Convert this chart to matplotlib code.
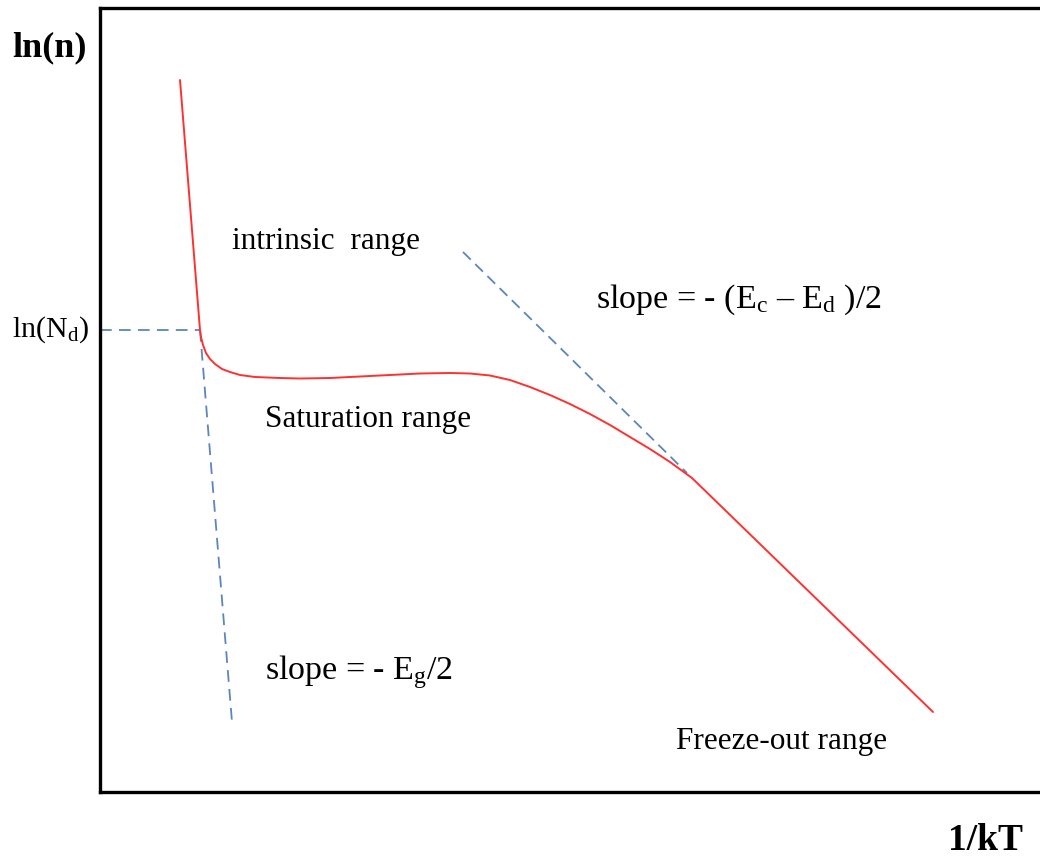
import matplotlib
matplotlib.use("Agg")
import matplotlib.pyplot as plt

plt.rcParams["font.family"] = ["Liberation Serif", "DejaVu Serif"]
plt.rcParams["mathtext.fontset"] = "custom"
plt.rcParams["mathtext.rm"] = "Liberation Serif"
plt.rcParams["mathtext.it"] = "Liberation Serif:italic"

# Carrier concentration ln(n) versus 1/kT (arbitrary units)
inv_kT = [0.80, 1.00, 1.01, 1.03, 1.06, 1.10, 1.15, 1.22, 1.30, 1.40, 1.55,
          1.80, 2.00, 2.30, 2.60, 2.90, 3.20, 3.50, 3.70, 3.90, 4.10, 4.30,
          4.50, 4.70, 4.90, 5.10, 5.30, 5.50, 5.70, 5.92, 8.33]
ln_n = [7.12, 4.62, 4.55, 4.47, 4.39, 4.33, 4.28, 4.23, 4.20, 4.17, 4.15,
        4.14, 4.135, 4.14, 4.155, 4.17, 4.185, 4.19, 4.185, 4.165, 4.12, 4.05,
        3.97, 3.88, 3.78, 3.67, 3.55, 3.43, 3.30, 3.14, 0.80]

# Guide lines: ln(Nd) level, intrinsic slope and freeze-out tangent
ln_Nd = 4.62
nd_x = [0.0, 1.00]
intrinsic_x = [1.00, 1.32]
intrinsic_y = [4.62, 0.70]
tangent_x = [3.63, 5.87]
tangent_y = [5.40, 3.19]

W, H = 1040, 859
fig = plt.figure(figsize=(W / 100, H / 100), dpi=100)
ax = fig.add_axes([100 / W, (H - 792) / H, 940 / W, 784 / H])
ax.set_xlim(0, 9.40)
ax.set_ylim(0, 7.84)

blue = "#5b86bd"
ax.plot(nd_x, [ln_Nd, ln_Nd], color=blue, lw=1.3, dashes=(6.5, 4))
ax.plot(intrinsic_x, intrinsic_y, color=blue, lw=1.3, dashes=(6.5, 4))
ax.plot(tangent_x, tangent_y, color=blue, lw=1.3, dashes=(6, 3.5))
ax.plot(inv_kT, ln_n, color="#ff3030", lw=1.4, solid_capstyle="round",
        solid_joinstyle="round")

for side in ("left", "top", "bottom"):
    ax.spines[side].set_linewidth(2.4)
    ax.spines[side].set_color("black")
ax.spines["right"].set_visible(False)
ax.set_xticks([])
ax.set_yticks([])

# Axis titles and range labels
fig.text(12 / W, 1 - 48 / H, "ln(n)", fontsize=26, fontweight="bold",
         ha="left", va="center")
fig.text(948 / W, 1 - 850 / H, "1/kT", fontsize=27, fontweight="bold",
         ha="left", va="baseline")
fig.text(12 / W, 1 - 330 / H, r"ln(N$_\mathrm{d}$)", fontsize=21.5,
         ha="left", va="center")

top = 7.92
ax.text(1.32, top - 2.42, "intrinsic  range", fontsize=22.5,
        ha="left", va="center")
ax.text(1.65, top - 4.19, "Saturation range", fontsize=22.5,
        ha="left", va="center")
ax.text(4.96, top - 3.00,
        r"slope = - (E$_\mathrm{c}$ – E$_\mathrm{d}$ )/2", fontsize=24.5,
        ha="left", va="center")
ax.text(1.65, top - 6.72, r"slope = - E$_\mathrm{g}$/2", fontsize=24.5,
        ha="left", va="center")
ax.text(5.76, top - 7.41, "Freeze-out range", fontsize=22.5,
        ha="left", va="center")

fig.savefig("out.png", dpi=100, facecolor="white")
